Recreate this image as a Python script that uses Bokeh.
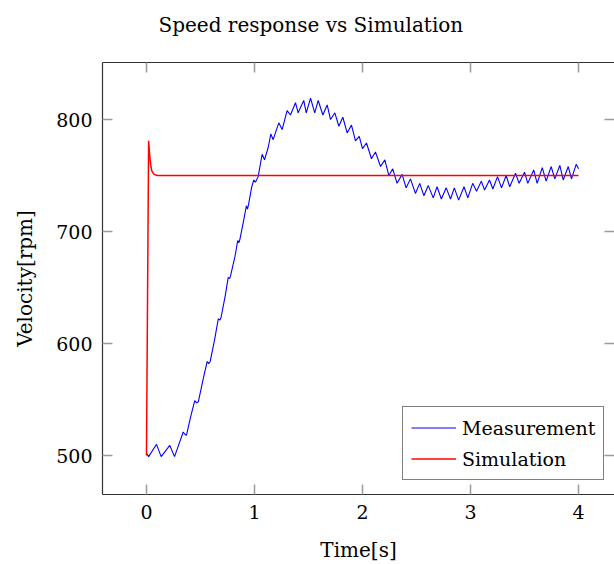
from bokeh.plotting import figure
from bokeh.models import (LinearAxis, FixedTicker, Legend, LegendItem, Range1d,
                          CustomLabelingPolicy)
from bokeh.embed import file_html
from bokeh.resources import INLINE

# ---------------- data ----------------
title_text = "Speed response vs Simulation"
x_label = "Time[s]"
y_label = "Velocity[rpm]"
x_ticks = [0, 1, 2, 3, 4]
y_ticks = [500, 600, 700, 800]

meas_t = [0.000, 0.020, 0.093, 0.136, 0.216, 0.260, 0.300, 0.340, 0.355, 0.370,
          0.410, 0.447, 0.465, 0.480, 0.520, 0.562, 0.576, 0.590, 0.630, 0.665,
          0.680, 0.690, 0.730, 0.757, 0.770, 0.780, 0.820, 0.845, 0.855, 0.865,
          0.900, 0.925, 0.935, 0.945, 0.975, 0.994, 1.009, 1.034, 1.071, 1.093,
          1.127, 1.151, 1.173, 1.225, 1.256, 1.302, 1.333, 1.380, 1.404, 1.456,
          1.479, 1.519, 1.558, 1.590, 1.633, 1.673, 1.704, 1.744, 1.781, 1.818,
          1.858, 1.898, 1.935, 1.970, 2.000, 2.037, 2.083, 2.120, 2.167, 2.207,
          2.244, 2.280, 2.320, 2.367, 2.404, 2.444, 2.490, 2.530, 2.568, 2.609,
          2.655, 2.690, 2.730, 2.775, 2.815, 2.850, 2.890, 2.940, 2.975, 3.020,
          3.056, 3.100, 3.130, 3.176, 3.207, 3.250, 3.287, 3.330, 3.363, 3.417,
          3.450, 3.500, 3.530, 3.585, 3.617, 3.664, 3.700, 3.747, 3.780, 3.827,
          3.858, 3.905, 3.935, 3.978, 4.000]
meas_v = [502, 499, 510, 499, 509, 499, 510, 521, 519, 518,
          535, 549, 547, 548, 566, 584, 582, 584, 603, 622,
          621, 623, 643, 659, 658, 661, 678, 692, 690, 693,
          710, 723, 720, 724, 740, 746, 744, 749, 769, 764,
          775, 787, 782, 797, 791, 808, 804, 815, 806, 817,
          806, 819, 806, 817, 804, 813, 800, 806, 794, 802,
          788, 795, 781, 785, 774, 779, 765, 771, 758, 764,
          750, 756, 743, 751, 739, 747, 734, 743, 732, 741,
          730, 740, 729, 739, 729, 739, 728, 740, 730, 743,
          736, 745, 737, 746, 738, 749, 739, 750, 740, 752,
          743, 753, 743, 755, 743, 757, 745, 758, 747, 759,
          746, 758, 747, 760, 756]

sim_t = [0.000, 0.020, 0.030, 0.040, 0.050, 0.070, 0.100, 4.000]
sim_v = [500, 781, 768, 759, 754, 751, 750, 750]

FONT = "DejaVu Serif"
FRAME = "#333333"
TICK = "#9a9a9a"

x_rng = Range1d(-0.407, 4.333)
y_rng = Range1d(465.2, 850.9)

p = figure(width=614, height=564, x_range=x_rng, y_range=y_rng,
           output_backend="svg", toolbar_location=None,
           min_border_left=102, min_border_right=0,
           min_border_top=62, min_border_bottom=70,
           title=title_text)

p.title.text_font = FONT
p.title.text_font_size = "20px"
p.title.text_font_style = "normal"
p.title.text_color = "black"
p.title.align = "left"
p.title.offset = 56
p.title.standoff = 20

p.xgrid.visible = False
p.ygrid.visible = False
p.outline_line_color = None
p.background_fill_color = "white"
p.border_fill_color = "white"

hide_labels = CustomLabelingPolicy(code="return new Set()")


def style_axis(ax, ticks, show_labels):
    ax.ticker = FixedTicker(ticks=ticks)
    ax.minor_tick_line_color = None
    ax.major_tick_in = 10
    ax.major_tick_out = 0
    ax.major_tick_line_color = TICK
    ax.major_tick_line_width = 1.5
    ax.axis_line_color = FRAME
    ax.axis_line_width = 1.2
    if show_labels:
        ax.major_label_text_font = FONT
        ax.major_label_text_font_size = "19px"
        ax.major_label_text_color = "black"
        ax.major_label_standoff = 10
        ax.axis_label_text_font = FONT
        ax.axis_label_text_font_size = "20px"
        ax.axis_label_text_font_style = "normal"
        ax.axis_label_text_color = "black"
    else:
        ax.major_label_policy = hide_labels
        ax.major_label_text_font_size = "1px"
        ax.major_label_standoff = 12
        ax.axis_label = None


xb = p.below[0]
yl = p.left[0]
style_axis(xb, x_ticks, True)
style_axis(yl, y_ticks, True)
xb.axis_label = x_label
yl.axis_label = y_label
xb.axis_label_standoff = 16
yl.axis_label_standoff = 16

xa = LinearAxis()
style_axis(xa, x_ticks, False)
p.add_layout(xa, "above")

r_meas = p.line(meas_t, meas_v, line_color="#0000ff", line_width=1.1)
r_sim = p.line(sim_t, sim_v, line_color="#ff0000", line_width=1.5)

# mirrored ticks on the right edge of the frame (half of each dash falls
# outside the frame and is clipped, leaving an inward tick)
p.scatter([x_rng.end] * len(y_ticks), y_ticks, marker="dash", size=20,
          line_color=TICK, line_width=1.5)

legend = Legend(items=[LegendItem(label="Measurement", renderers=[r_meas]),
                       LegendItem(label="Simulation", renderers=[r_sim])],
                location=(300, 14))
legend.border_line_color = "black"
legend.border_line_width = 1
legend.background_fill_color = "white"
legend.background_fill_alpha = 1
legend.label_text_font = FONT
legend.label_text_font_size = "19px"
legend.label_text_color = "black"
legend.glyph_width = 45
legend.glyph_height = 25
legend.label_height = 25
legend.spacing = 6
legend.padding = 8
legend.label_standoff = 6
legend.margin = 0
p.add_layout(legend)

open("out.html", "w").write(file_html(p, INLINE))
